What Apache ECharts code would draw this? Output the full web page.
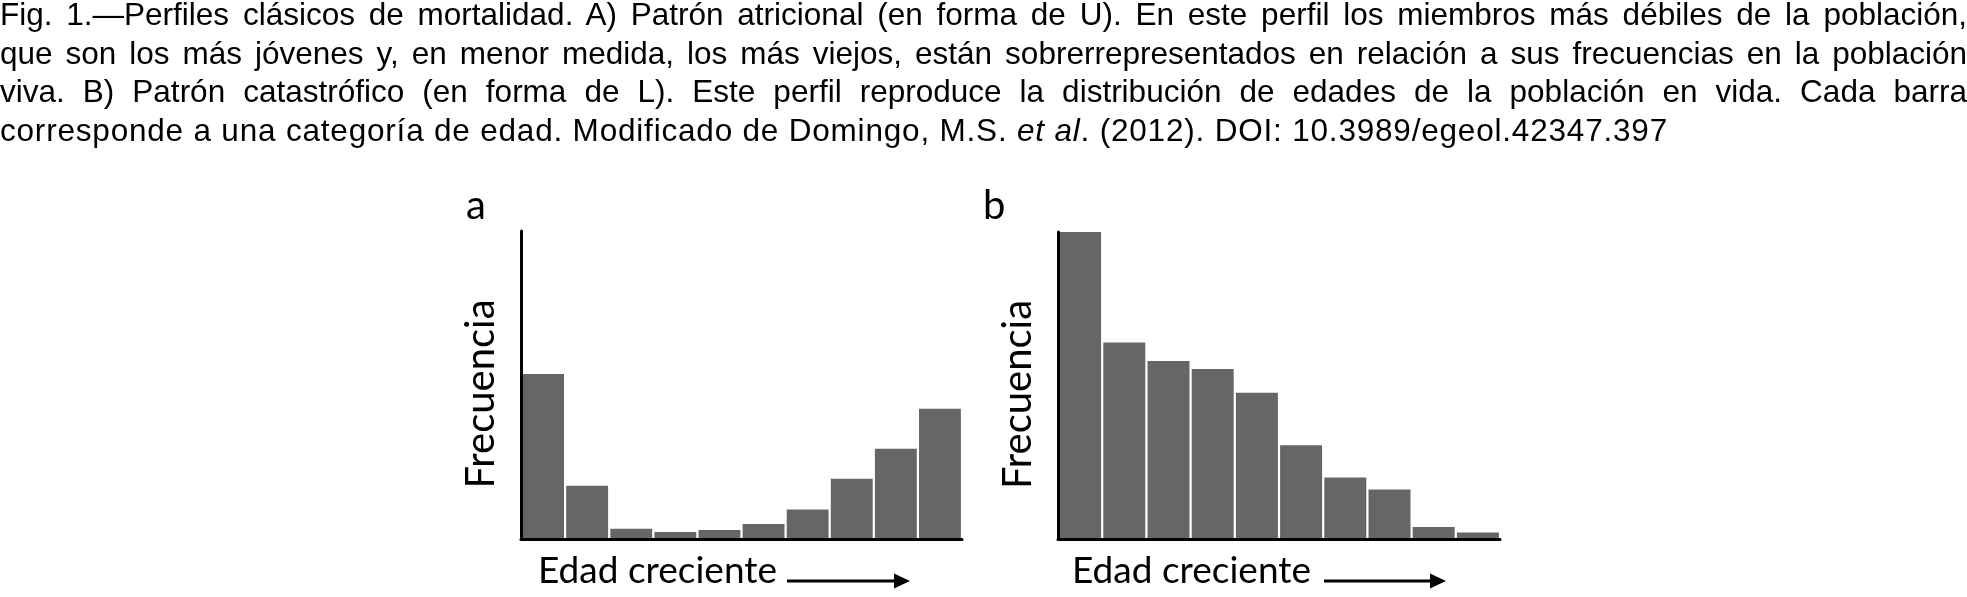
<!DOCTYPE html>
<html>
<head>
<meta charset="utf-8">
<script src="https://cdn.jsdelivr.net/npm/echarts@6/dist/echarts.min.js"></script>
<style>
  html, body { margin: 0; padding: 0; background: #fff; }
  #chart { position: absolute; left: 0; top: 0; width: 1967px; height: 597px; }
  #caption {
    position: absolute; left: 0; top: -5px; width: 1967px;
    font-family: 'Liberation Sans', Arial, sans-serif; font-size: 31.5px; line-height: 38.5px; color: #000;
  }
  #caption div { white-space: nowrap; }
  #caption div.just { text-align: justify; text-align-last: justify; }
</style>
</head>
<body>
<div id="chart"></div>
<div id="caption"></div>
<script>
// categorias de edad (sin etiquetas en la figura)
var edades = ['1', '2', '3', '4', '5', '6', '7', '8', '9', '10'];
// a) patron atricional (forma de U)
var atricional = [53.6, 17.3, 3.3, 2.3, 2.9, 4.9, 9.6, 19.6, 29.3, 42.3];
// b) patron catastrofico (forma de L)
var catastrofico = [100, 64, 58, 55.4, 47.6, 30.5, 20, 16.1, 3.9, 2.1];
var panelNames = ['a', 'b'];
var yName = 'Frecuencia';
var xName = 'Edad creciente';
var leyenda = [
    'Fig. 1.—Perfiles clásicos de mortalidad. A) Patrón atricional (en forma de U). En este perfil los miembros más débiles de la población,',
    'que son los más jóvenes y, en menor medida, los más viejos, están sobrerrepresentados en relación a sus frecuencias en la población',
    'viva. B) Patrón catastrófico (en forma de L). Este perfil reproduce la distribución de edades de la población en vida. Cada barra',
    'corresponde a una categoría de edad. Modificado de Domingo, M.S. <i>et al</i>. (2012). DOI: 10.3989/egeol.42347.397'
];

// pie de figura: cada linea justificada, la ultima a la izquierda
var cap = document.getElementById('caption');
leyenda.forEach(function (txt, i) {
    var d = document.createElement('div');
    var s = document.createElement('span');
    s.innerHTML = txt;
    d.appendChild(s);
    cap.appendChild(d);
    var n = s.textContent.length;
    var w = s.getBoundingClientRect().width;
    var ls = 0;
    if (i === leyenda.length - 1) {
        ls = (1668 - w) / n;
    } else {
        if (w > 1962) ls = (1962 - w) / n;
        d.className = 'just';
    }
    d.style.letterSpacing = ls + 'px';
});

var fuente = 'Lato';

function eje(gridIndex) {
    return {
        type: 'category',
        gridIndex: gridIndex,
        data: edades,
        z: 5,
        axisLine: {lineStyle: {color: '#000', width: 3}},
        axisTick: {show: false},
        axisLabel: {show: false}
    };
}
function ejeY(gridIndex) {
    return {
        type: 'value',
        gridIndex: gridIndex,
        min: 0,
        max: 100,
        z: 5,
        name: yName,
        nameLocation: 'middle',
        nameRotate: 90,
        nameGap: 20,
        nameTextStyle: {fontFamily: fuente, fontSize: 40, color: '#000', padding: [0, 18, 0, 0]},
        axisLine: {show: true, lineStyle: {color: '#000', width: 3}},
        axisTick: {show: false},
        axisLabel: {show: false},
        splitLine: {show: false}
    };
}
function flecha(x0, x1, y) {
    return [
        {type: 'line', shape: {x1: x0, y1: y, x2: x1 - 10, y2: y}, style: {stroke: '#000', lineWidth: 3}},
        {type: 'polygon', shape: {points: [[x1 - 16, y - 7.5], [x1, y], [x1 - 16, y + 7.5]]}, style: {fill: '#000'}}
    ];
}

var graficos = [
    {type: 'text', left: 466, top: 186, style: {text: panelNames[0], font: '40px ' + fuente, fill: '#000'}},
    {type: 'text', left: 983, top: 186, style: {text: panelNames[1], font: '40px ' + fuente, fill: '#000'}},
    {type: 'text', left: 538, top: 553, style: {text: xName, font: '37px ' + fuente, fill: '#000'}},
    {type: 'text', left: 1072, top: 553, style: {text: xName, font: '37px ' + fuente, fill: '#000'}}
].concat(flecha(787, 910, 581)).concat(flecha(1324, 1446, 581));

var option = {
    animation: false,
    backgroundColor: '#fff',
    grid: [
        {left: 521, top: 231, width: 441, height: 308},
        {left: 1058, top: 232, width: 442, height: 307}
    ],
    xAxis: [eje(0), eje(1)],
    yAxis: [ejeY(0), ejeY(1)],
    series: [
        {
            type: 'bar', xAxisIndex: 0, yAxisIndex: 0, data: atricional,
            barCategoryGap: '5%',
            itemStyle: {color: '#666666'}
        },
        {
            type: 'bar', xAxisIndex: 1, yAxisIndex: 1, data: catastrofico,
            barCategoryGap: '5%',
            itemStyle: {color: '#666666'}
        }
    ],
    graphic: graficos
};

var chart = echarts.init(document.getElementById('chart'));
chart.setOption(option);
</script>
</body>
</html>
